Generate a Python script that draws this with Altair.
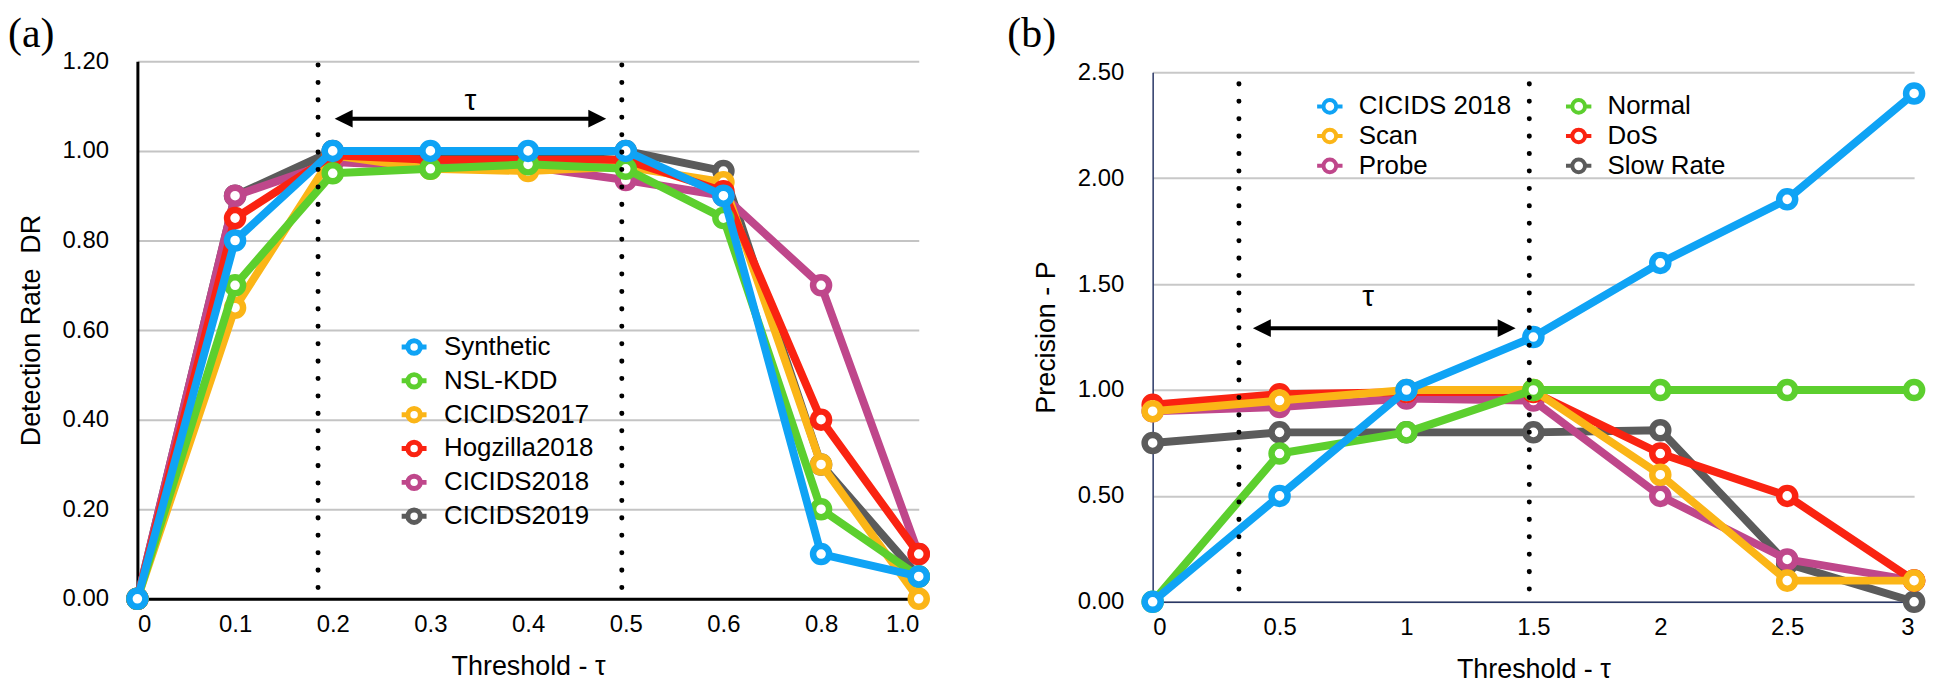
import altair as alt
import pandas as pd

FONT = "Liberation Sans"
SERIF = "Liberation Serif"

# ---------------- Panel (a): Detection Rate ----------------
thr_a_labels = ["0", "0.1", "0.2", "0.3", "0.4", "0.5", "0.6", "0.8", "1.0"]
series_a = ["Synthetic", "NSL-KDD", "CICIDS2017", "Hogzilla2018", "CICIDS2018", "CICIDS2019"]
colors_a = ["#0fa3f5", "#5ccf2e", "#fbb517", "#fa2311", "#bf478b", "#5b5b5b"]
synthetic = [0.00, 0.80, 1.00, 1.00, 1.00, 1.00, 0.90, 0.10, 0.05]
nsl_kdd = [0.00, 0.70, 0.95, 0.96, 0.97, 0.96, 0.85, 0.20, 0.05]
cicids2017 = [0.00, 0.65, 0.99, 0.96, 0.955, 0.965, 0.93, 0.30, 0.00]
hogzilla2018 = [0.00, 0.85, 0.99, 0.98, 0.98, 0.98, 0.91, 0.40, 0.10]
cicids2018 = [0.00, 0.90, 0.975, 0.965, 0.965, 0.935, 0.90, 0.70, 0.10]
cicids2019 = [0.00, 0.90, 1.00, 0.99, 0.99, 1.00, 0.955, 0.30, 0.05]
values_a = [synthetic, nsl_kdd, cicids2017, hogzilla2018, cicids2018, cicids2019]
draw_order_a = ["CICIDS2019", "CICIDS2018", "CICIDS2017", "Hogzilla2018", "NSL-KDD", "Synthetic"]
y_ticks_a = [0.0, 0.2, 0.4, 0.6, 0.8, 1.0, 1.2]
tau_lines_a = [1.85, 4.96]          # category-index positions of dotted lines
tau_line_span_a = [0.025, 1.2]
arrow_a = [2.02, 4.80]              # arrow tips (category index)
arrow_shaft_a = [2.10, 4.72]
arrow_y_a = [1.072]
tau_label_a = [3.41, 1.111]

# ---------------- Panel (b): Precision ----------------
thr_b = [0, 0.5, 1, 1.5, 2, 2.5, 3]
series_b = ["CICIDS 2018", "Scan", "Probe", "Normal", "DoS", "Slow Rate"]
colors_b = ["#0fa3f5", "#fbb517", "#bf478b", "#5ccf2e", "#fa2311", "#5b5b5b"]
cicids2018_b = [0.00, 0.50, 1.00, 1.25, 1.60, 1.90, 2.40]
scan = [0.90, 0.95, 1.00, 1.00, 0.60, 0.10, 0.10]
probe = [0.90, 0.92, 0.96, 0.95, 0.50, 0.20, 0.10]
normal = [0.00, 0.70, 0.80, 1.00, 1.00, 1.00, 1.00]
dos = [0.93, 0.98, 0.99, 0.99, 0.70, 0.50, 0.10]
slow_rate = [0.75, 0.80, 0.80, 0.80, 0.81, 0.18, 0.00]
values_b = [cicids2018_b, scan, probe, normal, dos, slow_rate]
draw_order_b = ["Slow Rate", "Probe", "DoS", "Scan", "Normal", "CICIDS 2018"]
y_ticks_b = [0.0, 0.5, 1.0, 1.5, 2.0, 2.5]
tau_lines_b = [0.34, 1.484]
tau_line_span_b = [0.06, 2.5]
arrow_b = [0.395, 1.43]
arrow_shaft_b = [0.46, 1.36]
arrow_y_b = [1.292]
tau_label_b = [0.849, 1.438]

panel_labels = ["(a)", "(b)"]

LEGEND_SYMBOL = "M-1,0L-0.5,0M0.5,0L1,0M-0.5,0A0.5,0.5,0,1,0,0.5,0A0.5,0.5,0,1,0,-0.5,0"
HEAD_LEFT = "M0,0L2,-1L2,1Z"
HEAD_RIGHT = "M0,0L-2,-1L-2,1Z"


def long_frame(xs, names, cols):
    rows = []
    for name, col in zip(names, cols):
        for x, v in zip(xs, col):
            rows.append({"series": name, "x": x, "value": v})
    return pd.DataFrame(rows)


def build_panel(df, order, domain, rng, xenc, yenc, legend, xs_lines, span, arrow, shaft, arrow_y,
                tau_pos, line_w):
    cmap = dict(zip(domain, rng))
    layers = []
    for name in order:
        sub = df[df["series"] == name]
        base = alt.Chart(sub)
        layers.append(
            base.mark_line(strokeWidth=line_w, strokeJoin="round", strokeCap="round").encode(
                x=xenc, y=yenc, stroke=alt.value(cmap[name])
            )
        )
        layers.append(
            base.mark_point(filled=True, fill="white", size=260, strokeWidth=6.5, opacity=1).encode(
                x=xenc, y=yenc,
                stroke=alt.Stroke("series:N", scale=alt.Scale(domain=domain, range=rng), legend=legend),
            )
        )
    # dotted threshold lines
    dl = pd.DataFrame({"x": xs_lines, "value": [span[0]] * len(xs_lines), "value2": [span[1]] * len(xs_lines)})
    layers.append(
        alt.Chart(dl).mark_rule(color="black", strokeWidth=5, strokeCap="round", strokeDash=[0.1, 17.4]).encode(
            x=xenc, y=yenc, y2="value2:Q"
        )
    )
    # arrow shaft and heads
    sh = pd.DataFrame({"x": [shaft[0]], "x2": [shaft[1]], "value": arrow_y})
    layers.append(alt.Chart(sh).mark_rule(color="black", strokeWidth=4).encode(x=xenc, x2="x2:Q", y=yenc))
    hl = pd.DataFrame({"x": [arrow[0]], "value": arrow_y})
    hr = pd.DataFrame({"x": [arrow[1]], "value": arrow_y})
    layers.append(alt.Chart(hl).mark_point(shape=HEAD_LEFT, size=324, filled=True, color="black", opacity=1,
                                           strokeWidth=0).encode(x=xenc, y=yenc))
    layers.append(alt.Chart(hr).mark_point(shape=HEAD_RIGHT, size=324, filled=True, color="black", opacity=1,
                                           strokeWidth=0).encode(x=xenc, y=yenc))
    tl = pd.DataFrame({"x": [tau_pos[0]], "value": [tau_pos[1]], "t": ["τ"]})
    layers.append(alt.Chart(tl).mark_text(font=FONT, fontSize=30, color="black", baseline="middle",
                                          align="center").encode(x=xenc, y=yenc, text="t:N"))
    return layers


# ---------- panel (a) ----------
df_a = long_frame(list(range(len(thr_a_labels))), series_a, values_a)
label_expr_a = "[" + ",".join("'" + s + "'" for s in thr_a_labels) + "][datum.value]"
ax_xa = alt.Axis(values=list(range(len(thr_a_labels))), labelExpr=label_expr_a, title="Threshold - τ",
                 grid=False, ticks=False, domainColor="black", domainWidth=3, labelPadding=14, titlePadding=17)
ax_ya = alt.Axis(values=y_ticks_a, format=".2f", title="Detection Rate\u00a0 DR", grid=True,
                 gridColor="#c4c4c4", gridWidth=2, ticks=False, domainColor="black", domainWidth=3,
                 labelPadding=29, titlePadding=17)
xa = alt.X("x:Q", scale=alt.Scale(domain=[0, len(thr_a_labels) - 1], nice=False, zero=False), axis=ax_xa)
ya = alt.Y("value:Q", scale=alt.Scale(domain=[0, 1.2], nice=False), axis=ax_ya)
legend_a = alt.Legend(orient="none", legendX=263, legendY=272, title=None, symbolType=LEGEND_SYMBOL,
                      symbolSize=625, symbolStrokeWidth=5, symbolFillColor="white", labelFont=FONT,
                      labelFontSize=26, labelOffset=15, rowPadding=0, padding=0, labelColor="black")
layers_a = build_panel(df_a, draw_order_a, series_a, colors_a, xa, ya, legend_a, tau_lines_a, tau_line_span_a,
                       arrow_a, arrow_shaft_a, arrow_y_a, tau_label_a, 8)
lab_a = pd.DataFrame({"label": [panel_labels[0]]})
layers_a.append(alt.Chart(lab_a).mark_text(font=SERIF, fontSize=42, align="left", baseline="middle",
                                           color="black").encode(x=alt.value(-130), y=alt.value(-27),
                                                                 text="label:N"))
panel_a = alt.layer(*layers_a).properties(
    width=785, height=540, view=alt.ViewBackground(stroke="#333333", strokeWidth=2)
)

# ---------- panel (b) ----------
df_b = long_frame(thr_b, series_b, values_b)
ax_xb = alt.Axis(values=thr_b, format="~g", title="Threshold - τ", grid=False, ticks=False,
                 domainColor="#2a3766", domainWidth=1.5, labelPadding=14, titlePadding=17)
ax_yb = alt.Axis(values=y_ticks_b, format=".2f", title="Precision - P", grid=True, gridColor="#c8c8c8",
                 gridWidth=2, ticks=False, domainColor="#2a3766", domainWidth=1.5, labelPadding=29,
                 titlePadding=17)
xb = alt.X("x:Q", scale=alt.Scale(domain=[0, 3], nice=False), axis=ax_xb)
yb = alt.Y("value:Q", scale=alt.Scale(domain=[0, 2.5], nice=False), axis=ax_yb)
legend_b = alt.Legend(orient="none", legendX=163, legendY=30, title=None, columns=2, columnPadding=46,
                      symbolType=LEGEND_SYMBOL, symbolSize=650, symbolStrokeWidth=4, symbolFillColor="white",
                      labelFont=FONT, labelFontSize=26, labelOffset=14, rowPadding=0, padding=0,
                      labelColor="black")
layers_b = build_panel(df_b, draw_order_b, series_b, colors_b, xb, yb,
                       legend_b, tau_lines_b, tau_line_span_b, arrow_b, arrow_shaft_b, arrow_y_b, tau_label_b, 8)
panel_b = alt.layer(*layers_b).properties(
    width=765, height=532, view=alt.ViewBackground(stroke="#2a3766", strokeWidth=1.5)
)

lab_b = pd.DataFrame({"label": [panel_labels[1]]})
spacer_b = alt.Chart(lab_b).mark_text(font=SERIF, fontSize=42, align="left", baseline="middle",
                                      color="black").encode(x=alt.value(-146), y=alt.value(-27),
                                                            text="label:N").properties(
    width=765, height=11, view=alt.ViewBackground(strokeOpacity=0)
)

right = alt.vconcat(spacer_b, panel_b, spacing=0, bounds="flush")

chart = alt.hconcat(panel_a, right, spacing=235, bounds="flush").resolve_scale(
    stroke="independent"
).resolve_legend(stroke="independent").properties(
    padding={"left": 0, "top": 4, "right": 0, "bottom": 0}, background="white"
).configure_axis(
    labelFont=FONT, labelFontSize=24, labelColor="black", titleFont=FONT, titleFontSize=27,
    titleFontWeight="normal", titleColor="black"
).configure_view(strokeOpacity=0)

chart.save("out.html", embed_options={"renderer": "svg", "actions": False})
